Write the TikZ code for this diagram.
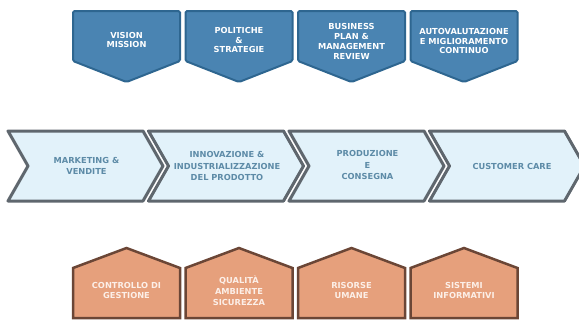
\documentclass[tikz,border=0pt]{standalone}
\usepackage{fontspec}
\setmainfont{DejaVu Sans}
\usetikzlibrary{positioning}
\definecolor{topfill}{HTML}{4A84B2}
\definecolor{topline}{HTML}{2E6690}
\definecolor{midfill}{HTML}{E2F2FA}
\definecolor{midline}{HTML}{5F676E}
\definecolor{midtext}{HTML}{5D8BA7}
\definecolor{botfill}{HTML}{E6A07C}
\definecolor{botline}{HTML}{6B4636}
\definecolor{bottext}{HTML}{FCEFE8}

\begin{document}
\begin{tikzpicture}[x=1bp, y=-1bp]
	\tikzstyle{topshape}=[draw=topline, fill=topfill, line width=2bp, rounded corners=1.5bp]
	\tikzstyle{midshape}=[draw=midline, fill=midfill, line width=3bp, line join=round]
	\tikzstyle{botshape}=[draw=botline, fill=botfill, line width=2.5bp]
	\tikzstyle{toptext}=[align=center, text=white, inner sep=0pt, font=\bfseries\fontsize{8.3}{10}\selectfont]
	\tikzstyle{midtext}=[align=center, text=midtext, inner sep=0pt, font=\bfseries\fontsize{8.3}{11.5}\selectfont]
	\tikzstyle{bottext}=[align=center, text=bottext, inner sep=0pt, font=\bfseries\fontsize{8.3}{11}\selectfont]
	\useasboundingbox (0,0) rectangle (579,320);
	
	% top row
	\draw[topshape] (73,11) -- (180,11) -- (180,61) -- (126.5,82) -- (73,61) -- cycle;
	\draw[topshape] (185.5,11) -- (292.5,11) -- (292.5,61) -- (239,82) -- (185.5,61) -- cycle;
	\draw[topshape] (298,11) -- (405,11) -- (405,61) -- (351.5,82) -- (298,61) -- cycle;
	\draw[topshape] (410.5,11) -- (517.5,11) -- (517.5,61) -- (464,82) -- (410.5,61) -- cycle;
	\node[toptext] (vision) at (126.5,40) {VISION\\MISSION};
	\node[toptext] (politiche) at (239,40) {POLITICHE\\\&\\STRATEGIE};
	\node[toptext] (business) at (351.5,41) {BUSINESS\\PLAN \&\\MANAGEMENT\\REVIEW};
	\node[toptext] (autoval) at (464,41) {AUTOVALUTAZIONE\\E MIGLIORAMENTO\\CONTINUO};
	
	% middle row
	\draw[midshape] (8,131) -- (143,131) -- (163,166) -- (143,201) -- (8,201) -- (28,166) -- cycle;
	\draw[midshape] (148.5,131) -- (283.5,131) -- (303.5,166) -- (283.5,201) -- (148.5,201) -- (168.5,166) -- cycle;
	\draw[midshape] (289,131) -- (424,131) -- (444,166) -- (424,201) -- (289,201) -- (309,166) -- cycle;
	\draw[midshape] (429.5,131) -- (564.5,131) -- (584.5,166) -- (564.5,201) -- (429.5,201) -- (449.5,166) -- cycle;
	\node[midtext] (marketing) at (86.5,166) {MARKETING \&\\VENDITE};
	\node[midtext] (innovazione) at (227,166) {INNOVAZIONE \&\\INDUSTRIALIZZAZIONE\\DEL PRODOTTO};
	\node[midtext] (produzione) at (367.5,165) {PRODUZIONE\\E\\CONSEGNA};
	\node[midtext] (customer) at (512,166) {CUSTOMER CARE};
	
	% bottom row
	\draw[botshape] (73,318) -- (73,268) -- (126.5,248) -- (180,268) -- (180,318) -- cycle;
	\draw[botshape] (185.5,318) -- (185.5,268) -- (239,248) -- (292.5,268) -- (292.5,318) -- cycle;
	\draw[botshape] (298,318) -- (298,268) -- (351.5,248) -- (405,268) -- (405,318) -- cycle;
	\draw[botshape] (410.5,318) -- (410.5,268) -- (464,248) -- (517.5,268) -- (517.5,318) -- cycle;
	\node[bottext] (controllo) at (126.5,290.5) {CONTROLLO DI\\GESTIONE};
	\node[bottext] (qualita) at (239,291) {QUALITÀ\\AMBIENTE\\SICUREZZA};
	\node[bottext] (risorse) at (351.5,290.5) {RISORSE\\UMANE};
	\node[bottext] (sistemi) at (464,290.5) {SISTEMI\\INFORMATIVI};
\end{tikzpicture}
\end{document}
